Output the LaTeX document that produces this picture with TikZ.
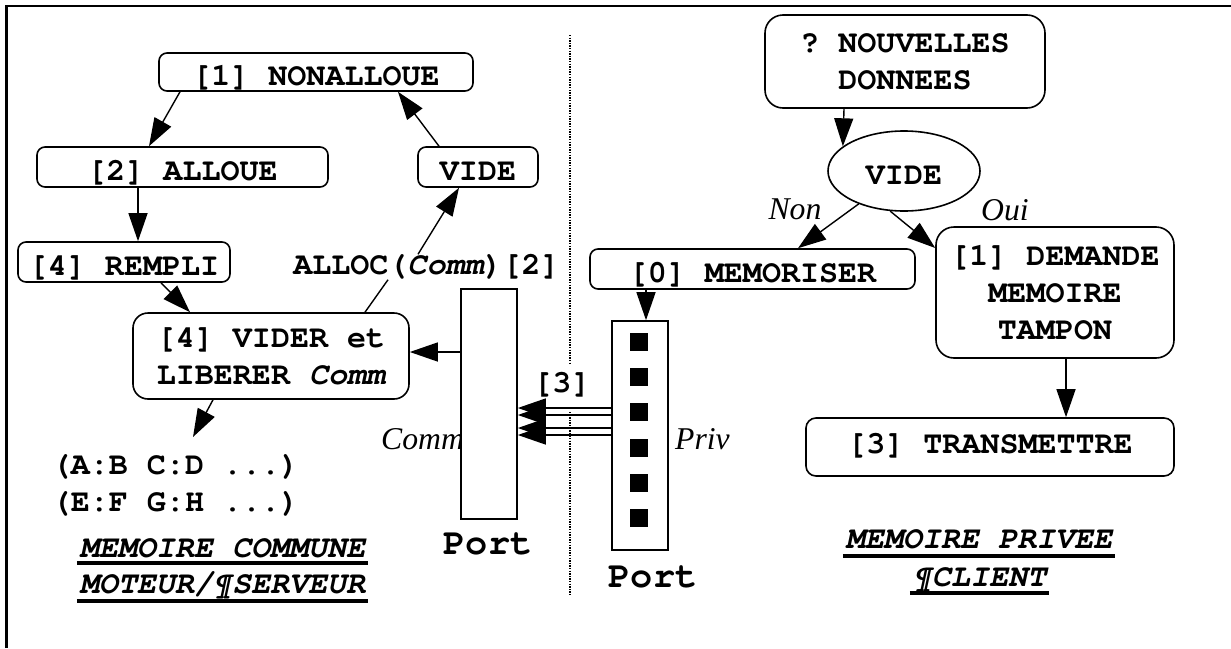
\documentclass[tikz,border=0pt]{standalone}
\usepackage{fontspec}
\setmainfont{Liberation Serif}
\setmonofont{TeX Gyre Cursor}
\usetikzlibrary{arrows.meta,shapes.geometric}

\begin{document}
\begin{tikzpicture}[x=1pt,y=-1pt,
  lbl/.style={font=\fontsize{31.7}{37}\selectfont\ttfamily\bfseries},
  box/.style={lbl, draw, line width=1.6pt, rounded corners=8pt, inner sep=0pt, align=center},
  onebox/.style={box, text height=28pt, text depth=2pt},
  bigbox/.style={box, rounded corners=18pt},
  arr/.style={line width=1.4pt, -{Triangle[length=28pt,width=19pt]}},
  link/.style={line width=1.4pt},
  cond/.style={font=\fontsize{31.7}{37}\selectfont\itshape, inner sep=0pt},
  title/.style={font=\fontsize{31.7}{37}\selectfont\ttfamily\bfseries\itshape,
    inner xsep=2.8pt, inner ysep=0pt, anchor=base},
  uline/.style={line width=4pt},
  port/.style={draw, line width=1.6pt, fill=white, inner sep=0pt},
  portname/.style={font=\fontsize{37}{40}\selectfont\ttfamily\bfseries, inner sep=0pt},
  cell/.style={fill=black, minimum size=18pt, inner sep=0pt}
]
\useasboundingbox (0,0) rectangle (1231,648);

% frame
\draw[line width=2.5pt] (6.5,648) -- (6.5,6) -- (1231,6);

% separator between the two memories
\draw[line width=1.3pt, dash pattern=on 1.3pt off 1.3pt] (570,35) -- (570,363) (570,412) -- (570,595);

% ---------- shared memory side ----------
\node[onebox, minimum width=314pt, minimum height=38pt] (n1) at (316,72) {[1] NONALLOUE};
\node[onebox, minimum width=291pt, minimum height=40pt] (n2) at (182.5,167) {[2] ALLOUE};
\node[onebox, minimum width=120pt, minimum height=40pt] (vide1) at (478,167) {VIDE};
\node[onebox, minimum width=212pt, minimum height=40pt] (rempli) at (124,262) {[4] REMPLI};
\node[lbl, inner sep=0pt] (alloc) at (426.5,267) {ALLOC({\itshape Comm})[2]};
\node[bigbox, rounded corners=15pt, minimum width=276pt, minimum height=86pt] (vider) at (271,356)
  {[4] VIDER et\\LIBERER {\itshape Comm}};
\node[lbl, align=left, inner sep=0pt] (list) at (175.5,485) {(A:B C:D ...)\\(E:F G:H ...)};
\coordinate (listin) at (193,437);

\node[cond, anchor=west] (comm) at (381,439) {Comm};
\node[port, minimum width=56pt, minimum height=230pt] (portL) at (489,404) {};
\node[portname] (portLname) at (488,544) {Port};

\node[title] (t1) at (222.5,557) {MEMOIRE COMMUNE};
\node[title] (t2) at (222.5,593) {MOTEUR/¶SERVEUR};
\draw[uline] ([yshift=-6pt]t1.base west) -- ([yshift=-6pt]t1.base east);
\draw[uline] ([yshift=-8pt]t2.base west) -- ([yshift=-8pt]t2.base east);

\draw[arr] ([xshift=-136pt]n1.south) -- ([xshift=-33.5pt]n2.north);
\draw[arr] ([xshift=-44.5pt]n2.south) -- ([xshift=14pt]rempli.north);
\draw[arr] ([xshift=37pt]rempli.south) -- ([xshift=-81pt]vider.north);
\draw[arr] ([xshift=-58pt]vider.south) -- (listin);
\draw[link] ([xshift=94pt]vider.north) -- ([xshift=-38.5pt]alloc.south);
\draw[arr] ([xshift=-8.5pt]alloc.north) -- ([xshift=-19pt]vide1.south);
\draw[arr] ([xshift=-39pt]vide1.north) -- ([xshift=82pt]n1.south);
\draw[arr] ([yshift=52pt]portL.west) -- ([yshift=4pt]vider.east);

% ---------- private memory side ----------
\node[bigbox, minimum width=280pt, minimum height=93pt] (nouv) at (905,61.5) {? NOUVELLES\\DONNEES};
\node[lbl, draw, ellipse, line width=1.6pt, minimum width=152pt, minimum height=80pt,
  inner sep=0pt, text height=28pt, text depth=2pt] (vide2) at (904,171) {VIDE};
\node[cond] (non) at (795,209) {Non};
\node[cond] (oui) at (1005,210) {Oui};
\node[onebox, minimum width=325pt, minimum height=40pt] (memo) at (752.5,269) {[0] MEMORISER};
\node[bigbox, minimum width=238pt, minimum height=131pt] (dem) at (1055,292.5)
  {[1] DEMANDE\\MEMOIRE\\TAMPON};
\node[box, rounded corners=10pt, text height=20pt, text depth=8pt, minimum width=368pt, minimum height=58pt]
  (trans) at (990,447) {[3] TRANSMETTRE};

\node[port, minimum width=56pt, minimum height=229pt] (portR) at (640,435.5) {};
\foreach \k/\y in {1/341.5,2/376.5,3/412,4/448,5/482.5,6/517.5}
  \node[cell] (cell\k) at (639,\y) {};
\node[cond, anchor=west] (priv) at (675,439) {Priv};
\node[portname] (portRname) at (653,577) {Port};

\node[title] (t3) at (979,548) {MEMOIRE PRIVEE};
\node[title] (t4) at (979.5,586) {¶CLIENT};
\draw[uline] ([yshift=-8pt]t3.base west) -- ([yshift=-8pt]t3.base east);
\draw[uline] ([yshift=-7pt]t4.base west) -- ([yshift=-7pt]t4.base east);

\draw[arr] ([xshift=-61pt]nouv.south) -- (vide2.158);
\draw[arr] (vide2.216) -- ([xshift=45.5pt]memo.north);
\draw[arr] (vide2.251.6) -- ([yshift=44.5pt]dem.west);
\draw[arr] ([xshift=11pt]dem.south) -- ([xshift=76pt]trans.north);
\draw[arr] ([xshift=-106.5pt]memo.south) -- ([xshift=6pt]portR.north);

% transfer from the private port to the shared port
\node[lbl, inner sep=0pt] (three) at (562,385) {[3]};
\foreach \a/\b in {27.5/-4, 20.5/-11, 7.5/-24, 0.5/-31}
  \draw[arr] ([yshift=\a pt]portR.west) -- ([yshift=\b pt]portL.east);
\end{tikzpicture}
\end{document}
